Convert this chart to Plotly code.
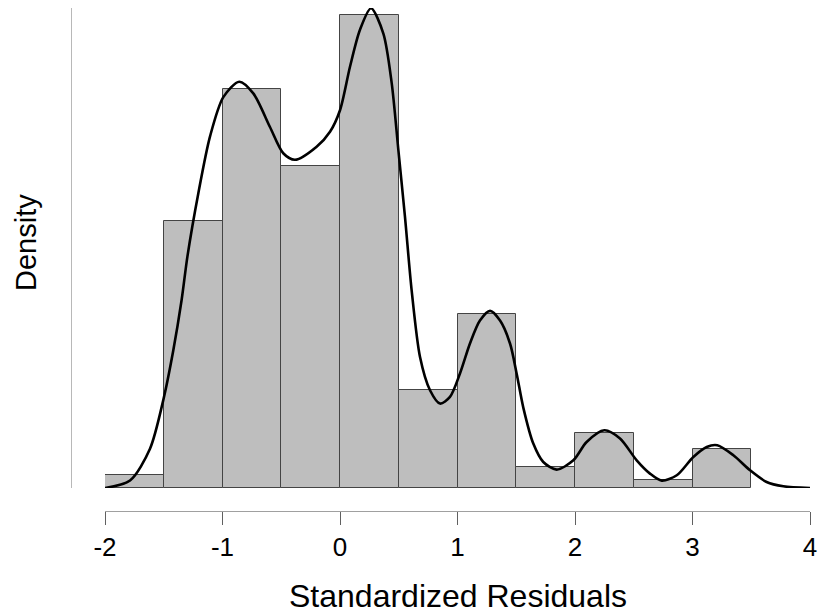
import plotly.graph_objects as go

# Histogram (density scale)
BREAKS = [-2.0, -1.5, -1.0, -0.5, 0.0, 0.5, 1.0, 1.5, 2.0, 2.5, 3.0, 3.5]
DENSITY = [0.0139, 0.2857, 0.4263, 0.3446, 0.5055, 0.1053, 0.1866, 0.0229, 0.0585, 0.0086, 0.0422]

# Kernel density curve
KDE_X = [-2.0, -1.787, -1.617, -1.504, -1.419, -1.348, -1.298, -1.206, -1.106, -0.993,
         -0.857, -0.738, -0.596, -0.483, -0.383, -0.199, -0.085, 0.0, 0.085, 0.170,
         0.264, 0.369, 0.440, 0.497, 0.553, 0.610, 0.681, 0.766, 0.851, 0.936,
         1.021, 1.106, 1.191, 1.277, 1.362, 1.447, 1.504, 1.560, 1.645, 1.730,
         1.844, 1.986, 2.099, 2.250, 2.383, 2.525, 2.638, 2.738, 2.866, 3.007,
         3.121, 3.211, 3.348, 3.489, 3.631, 3.773, 4.0]
KDE_Y = [0.0, 0.008, 0.042, 0.094, 0.147, 0.201, 0.248, 0.315, 0.376, 0.418,
         0.4345, 0.422, 0.386, 0.358, 0.351, 0.365, 0.381, 0.404, 0.4505, 0.490,
         0.513, 0.486, 0.433, 0.361, 0.290, 0.211, 0.140, 0.1045, 0.0903, 0.0974,
         0.1224, 0.1545, 0.179, 0.1894, 0.179, 0.1545, 0.122, 0.086, 0.0475, 0.0278,
         0.0197, 0.0296, 0.0492, 0.0617, 0.0529, 0.0296, 0.0154, 0.0079, 0.0136, 0.0332,
         0.0439, 0.0457, 0.035, 0.019, 0.0064, 0.0018, 0.0]

X_TICKS = [-2, -1, 0, 1, 2, 3, 4]
X_TITLE = "Standardized Residuals"
Y_TITLE = "Density"

W, H = 818, 614
ML, MR, MT, MB = 71, 0, 8, 0
plot_w = W - ML - MR
plot_h = H - MT - MB
y_top = 0.5133
ydom0 = (H - MB - 488) / plot_h
ax0 = (105 - ML) / plot_w
ax1 = (810 - ML) / plot_w

centers = [(BREAKS[i] + BREAKS[i + 1]) / 2 for i in range(len(DENSITY))]
widths = [BREAKS[i + 1] - BREAKS[i] for i in range(len(DENSITY))]

fig = go.Figure()
fig.add_trace(go.Bar(x=centers, y=DENSITY, width=widths,
                     marker=dict(color="#bebebe", line=dict(color="#444444", width=1)),
                     hoverinfo="skip"))
fig.add_trace(go.Scatter(x=KDE_X, y=KDE_Y, mode="lines", cliponaxis=False,
                         line=dict(color="black", width=2.6, shape="spline", smoothing=0.8),
                         hoverinfo="skip"))

fig.update_layout(
    width=W, height=H, autosize=False,
    margin=dict(l=ML, r=MR, t=MT, b=MB),
    paper_bgcolor="white", plot_bgcolor="white",
    showlegend=False, bargap=0,
    font=dict(family="Arial, Liberation Sans, sans-serif", color="black"),
    xaxis=dict(domain=[ax0, ax1], range=[X_TICKS[0], X_TICKS[-1]], anchor="free",
               position=(H - MB - 511) / plot_h, showline=True, linecolor="#a0a0a0",
               linewidth=1.2, ticks="outside", ticklen=13, tickwidth=1.2, tickcolor="#606060",
               tickvals=X_TICKS, ticktext=[str(t) for t in X_TICKS], automargin=False,
               tickfont=dict(size=26, color="black"), showgrid=False, zeroline=False),
    yaxis=dict(domain=[ydom0, 1], range=[0, y_top], anchor="free", position=0,
               showline=True, linecolor="#b8b8b8", linewidth=1.2, showgrid=False,
               zeroline=False, showticklabels=False, ticks="", automargin=False),
    annotations=[
        dict(text=X_TITLE, xref="paper", yref="paper", x=(458 - ML) / plot_w,
             y=(H - MB - 596) / plot_h, showarrow=False, font=dict(size=32),
             xanchor="center", yanchor="middle"),
        dict(text=Y_TITLE, xref="paper", yref="paper", x=(26 - ML) / plot_w,
             y=(H - MB - 243) / plot_h, showarrow=False, font=dict(size=29),
             textangle=-90, xanchor="center", yanchor="middle"),
    ],
)

fig.write_html("out.html",
               config={"responsive": False, "displayModeBar": False},
               post_script="document.body.style.margin='0px';document.body.style.overflow='hidden';")
